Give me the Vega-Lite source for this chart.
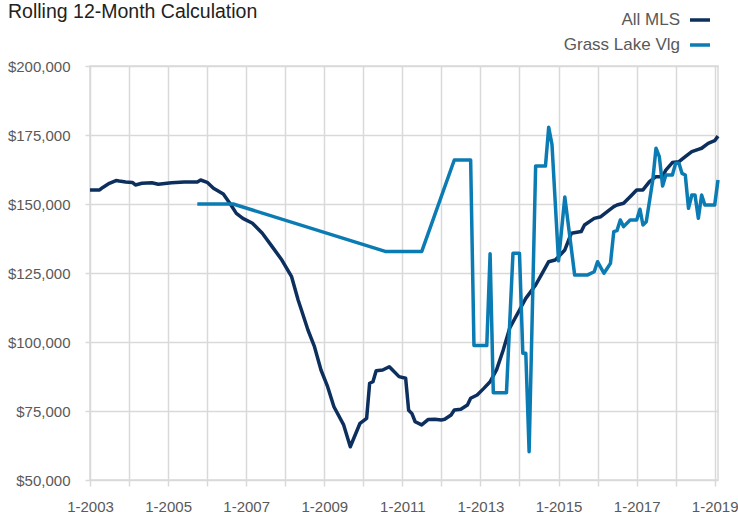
{
  "$schema": "https://vega.github.io/schema/vega-lite/v6.json",
  "width": 628,
  "height": 414,
  "autosize": {"type": "none"},
  "padding": {"left": 90, "top": 66, "right": 20, "bottom": 35},
  "background": "white",
  "title": {"text": "Rolling 12-Month Calculation", "anchor": "start", "frame": "group", "dx": -82, "dy": 18, "fontSize": 19.5, "font": "Liberation Sans", "fontWeight": "normal", "color": "#222222"},
  "config": {"view": {"stroke": "#d9d9d9", "strokeWidth": 1.5}, "font": "Liberation Sans"},
  "data": {
    "format": {"parse": {"date": "date:'%Y-%m'"}},
    "values": [
      {"date": "2003-01", "series": "All MLS", "value": 155100},
      {"date": "2003-04", "series": "All MLS", "value": 155100},
      {"date": "2003-05", "series": "All MLS", "value": 156000},
      {"date": "2003-07", "series": "All MLS", "value": 157500},
      {"date": "2003-09", "series": "All MLS", "value": 158500},
      {"date": "2003-10", "series": "All MLS", "value": 158300},
      {"date": "2003-12", "series": "All MLS", "value": 158000},
      {"date": "2004-02", "series": "All MLS", "value": 157800},
      {"date": "2004-03", "series": "All MLS", "value": 156900},
      {"date": "2004-05", "series": "All MLS", "value": 157500},
      {"date": "2004-08", "series": "All MLS", "value": 157700},
      {"date": "2004-10", "series": "All MLS", "value": 157150},
      {"date": "2005-02", "series": "All MLS", "value": 157700},
      {"date": "2005-06", "series": "All MLS", "value": 158000},
      {"date": "2005-10", "series": "All MLS", "value": 158000},
      {"date": "2005-11", "series": "All MLS", "value": 158700},
      {"date": "2006-01", "series": "All MLS", "value": 157850},
      {"date": "2006-03", "series": "All MLS", "value": 155700},
      {"date": "2006-06", "series": "All MLS", "value": 153600},
      {"date": "2006-08", "series": "All MLS", "value": 150250},
      {"date": "2006-10", "series": "All MLS", "value": 146600},
      {"date": "2006-12", "series": "All MLS", "value": 144800},
      {"date": "2007-03", "series": "All MLS", "value": 143000},
      {"date": "2007-06", "series": "All MLS", "value": 139400},
      {"date": "2007-09", "series": "All MLS", "value": 134550},
      {"date": "2007-12", "series": "All MLS", "value": 129700},
      {"date": "2008-03", "series": "All MLS", "value": 123650},
      {"date": "2008-05", "series": "All MLS", "value": 115200},
      {"date": "2008-06", "series": "All MLS", "value": 111600},
      {"date": "2008-08", "series": "All MLS", "value": 104350},
      {"date": "2008-10", "series": "All MLS", "value": 98300},
      {"date": "2008-12", "series": "All MLS", "value": 89850},
      {"date": "2009-02", "series": "All MLS", "value": 83800},
      {"date": "2009-04", "series": "All MLS", "value": 76550},
      {"date": "2009-07", "series": "All MLS", "value": 69950},
      {"date": "2009-09", "series": "All MLS", "value": 62050},
      {"date": "2009-12", "series": "All MLS", "value": 70550},
      {"date": "2010-02", "series": "All MLS", "value": 72350},
      {"date": "2010-03", "series": "All MLS", "value": 85050},
      {"date": "2010-04", "series": "All MLS", "value": 85600},
      {"date": "2010-05", "series": "All MLS", "value": 89600},
      {"date": "2010-07", "series": "All MLS", "value": 89850},
      {"date": "2010-09", "series": "All MLS", "value": 91050},
      {"date": "2010-10", "series": "All MLS", "value": 89850},
      {"date": "2010-12", "series": "All MLS", "value": 87450},
      {"date": "2011-02", "series": "All MLS", "value": 86850},
      {"date": "2011-03", "series": "All MLS", "value": 75250},
      {"date": "2011-04", "series": "All MLS", "value": 74050},
      {"date": "2011-05", "series": "All MLS", "value": 71100},
      {"date": "2011-07", "series": "All MLS", "value": 69950},
      {"date": "2011-09", "series": "All MLS", "value": 71950},
      {"date": "2011-11", "series": "All MLS", "value": 72050},
      {"date": "2012-01", "series": "All MLS", "value": 71750},
      {"date": "2012-02", "series": "All MLS", "value": 72000},
      {"date": "2012-04", "series": "All MLS", "value": 73550},
      {"date": "2012-05", "series": "All MLS", "value": 75350},
      {"date": "2012-07", "series": "All MLS", "value": 75600},
      {"date": "2012-09", "series": "All MLS", "value": 77150},
      {"date": "2012-10", "series": "All MLS", "value": 79600},
      {"date": "2012-12", "series": "All MLS", "value": 80800},
      {"date": "2013-02", "series": "All MLS", "value": 83200},
      {"date": "2013-04", "series": "All MLS", "value": 85600},
      {"date": "2013-06", "series": "All MLS", "value": 90000},
      {"date": "2013-08", "series": "All MLS", "value": 97000},
      {"date": "2013-10", "series": "All MLS", "value": 105000},
      {"date": "2014-01", "series": "All MLS", "value": 111600},
      {"date": "2014-03", "series": "All MLS", "value": 115800},
      {"date": "2014-06", "series": "All MLS", "value": 120650},
      {"date": "2014-08", "series": "All MLS", "value": 124900},
      {"date": "2014-10", "series": "All MLS", "value": 129100},
      {"date": "2014-12", "series": "All MLS", "value": 129700},
      {"date": "2015-01", "series": "All MLS", "value": 130900},
      {"date": "2015-03", "series": "All MLS", "value": 133350},
      {"date": "2015-05", "series": "All MLS", "value": 139400},
      {"date": "2015-08", "series": "All MLS", "value": 140000},
      {"date": "2015-09", "series": "All MLS", "value": 142400},
      {"date": "2015-12", "series": "All MLS", "value": 144800},
      {"date": "2016-02", "series": "All MLS", "value": 145400},
      {"date": "2016-04", "series": "All MLS", "value": 147200},
      {"date": "2016-06", "series": "All MLS", "value": 149050},
      {"date": "2016-07", "series": "All MLS", "value": 149650},
      {"date": "2016-09", "series": "All MLS", "value": 150250},
      {"date": "2016-11", "series": "All MLS", "value": 152650},
      {"date": "2017-01", "series": "All MLS", "value": 155100},
      {"date": "2017-03", "series": "All MLS", "value": 155100},
      {"date": "2017-05", "series": "All MLS", "value": 158100},
      {"date": "2017-07", "series": "All MLS", "value": 159900},
      {"date": "2017-09", "series": "All MLS", "value": 159900},
      {"date": "2017-10", "series": "All MLS", "value": 162300},
      {"date": "2017-12", "series": "All MLS", "value": 165000},
      {"date": "2018-02", "series": "All MLS", "value": 165350},
      {"date": "2018-04", "series": "All MLS", "value": 167150},
      {"date": "2018-06", "series": "All MLS", "value": 168950},
      {"date": "2018-08", "series": "All MLS", "value": 169800},
      {"date": "2018-09", "series": "All MLS", "value": 170200},
      {"date": "2018-11", "series": "All MLS", "value": 172000},
      {"date": "2019-01", "series": "All MLS", "value": 172950},
      {"date": "2019-02", "series": "All MLS", "value": 174600},
      {"date": "2005-10", "series": "Grass Lake Vlg", "value": 150000},
      {"date": "2006-09", "series": "Grass Lake Vlg", "value": 150000},
      {"date": "2010-08", "series": "Grass Lake Vlg", "value": 132750},
      {"date": "2011-07", "series": "Grass Lake Vlg", "value": 132750},
      {"date": "2012-05", "series": "Grass Lake Vlg", "value": 165950},
      {"date": "2012-10", "series": "Grass Lake Vlg", "value": 165950},
      {"date": "2012-11", "series": "Grass Lake Vlg", "value": 98700},
      {"date": "2013-03", "series": "Grass Lake Vlg", "value": 98700},
      {"date": "2013-04", "series": "Grass Lake Vlg", "value": 132000},
      {"date": "2013-05", "series": "Grass Lake Vlg", "value": 81650},
      {"date": "2013-09", "series": "Grass Lake Vlg", "value": 81650},
      {"date": "2013-11", "series": "Grass Lake Vlg", "value": 132150},
      {"date": "2014-01", "series": "Grass Lake Vlg", "value": 132150},
      {"date": "2014-02", "series": "Grass Lake Vlg", "value": 95900},
      {"date": "2014-03", "series": "Grass Lake Vlg", "value": 95900},
      {"date": "2014-04", "series": "Grass Lake Vlg", "value": 60250},
      {"date": "2014-06", "series": "Grass Lake Vlg", "value": 163750},
      {"date": "2014-09", "series": "Grass Lake Vlg", "value": 163750},
      {"date": "2014-10", "series": "Grass Lake Vlg", "value": 177800},
      {"date": "2014-11", "series": "Grass Lake Vlg", "value": 171500},
      {"date": "2015-01", "series": "Grass Lake Vlg", "value": 129400},
      {"date": "2015-03", "series": "Grass Lake Vlg", "value": 152550},
      {"date": "2015-06", "series": "Grass Lake Vlg", "value": 124300},
      {"date": "2015-10", "series": "Grass Lake Vlg", "value": 124300},
      {"date": "2015-12", "series": "Grass Lake Vlg", "value": 125450},
      {"date": "2016-01", "series": "Grass Lake Vlg", "value": 129100},
      {"date": "2016-03", "series": "Grass Lake Vlg", "value": 124900},
      {"date": "2016-04", "series": "Grass Lake Vlg", "value": 126700},
      {"date": "2016-05", "series": "Grass Lake Vlg", "value": 128500},
      {"date": "2016-06", "series": "Grass Lake Vlg", "value": 140000},
      {"date": "2016-07", "series": "Grass Lake Vlg", "value": 140350},
      {"date": "2016-08", "series": "Grass Lake Vlg", "value": 144200},
      {"date": "2016-09", "series": "Grass Lake Vlg", "value": 141800},
      {"date": "2016-11", "series": "Grass Lake Vlg", "value": 144200},
      {"date": "2017-01", "series": "Grass Lake Vlg", "value": 144200},
      {"date": "2017-02", "series": "Grass Lake Vlg", "value": 148100},
      {"date": "2017-03", "series": "Grass Lake Vlg", "value": 142400},
      {"date": "2017-04", "series": "Grass Lake Vlg", "value": 143600},
      {"date": "2017-06", "series": "Grass Lake Vlg", "value": 158700},
      {"date": "2017-07", "series": "Grass Lake Vlg", "value": 170200},
      {"date": "2017-08", "series": "Grass Lake Vlg", "value": 167150},
      {"date": "2017-09", "series": "Grass Lake Vlg", "value": 156500},
      {"date": "2017-10", "series": "Grass Lake Vlg", "value": 160500},
      {"date": "2017-12", "series": "Grass Lake Vlg", "value": 160500},
      {"date": "2018-01", "series": "Grass Lake Vlg", "value": 164750},
      {"date": "2018-02", "series": "Grass Lake Vlg", "value": 164750},
      {"date": "2018-03", "series": "Grass Lake Vlg", "value": 161100},
      {"date": "2018-04", "series": "Grass Lake Vlg", "value": 160500},
      {"date": "2018-05", "series": "Grass Lake Vlg", "value": 148450},
      {"date": "2018-06", "series": "Grass Lake Vlg", "value": 153250},
      {"date": "2018-07", "series": "Grass Lake Vlg", "value": 153250},
      {"date": "2018-08", "series": "Grass Lake Vlg", "value": 144800},
      {"date": "2018-09", "series": "Grass Lake Vlg", "value": 153250},
      {"date": "2018-10", "series": "Grass Lake Vlg", "value": 149650},
      {"date": "2019-01", "series": "Grass Lake Vlg", "value": 149650},
      {"date": "2019-02", "series": "Grass Lake Vlg", "value": 158700}
    ]
  },
  "mark": {"type": "line", "strokeWidth": 3.5, "strokeJoin": "round"},
  "encoding": {
    "x": {
      "field": "date",
      "type": "temporal",
      "scale": {"domain": [{"year": 2003, "month": 1, "date": 1}, {"year": 2019, "month": 2, "date": 1}]},
      "axis": {
        "title": null,
        "values": [
          {"year": 2003, "month": 1, "date": 1}, {"year": 2004, "month": 1, "date": 1}, {"year": 2005, "month": 1, "date": 1},
          {"year": 2006, "month": 1, "date": 1}, {"year": 2007, "month": 1, "date": 1}, {"year": 2008, "month": 1, "date": 1},
          {"year": 2009, "month": 1, "date": 1}, {"year": 2010, "month": 1, "date": 1}, {"year": 2011, "month": 1, "date": 1},
          {"year": 2012, "month": 1, "date": 1}, {"year": 2013, "month": 1, "date": 1}, {"year": 2014, "month": 1, "date": 1},
          {"year": 2015, "month": 1, "date": 1}, {"year": 2016, "month": 1, "date": 1}, {"year": 2017, "month": 1, "date": 1},
          {"year": 2018, "month": 1, "date": 1}, {"year": 2019, "month": 1, "date": 1}
        ],
        "labelExpr": "year(datum.value) % 2 == 1 ? '1-' + year(datum.value) : ''",
        "grid": true,
        "gridColor": "#d9d9d9",
        "gridWidth": 1.5,
        "domain": false,
        "tickColor": "#d9d9d9",
        "tickWidth": 1.5,
        "tickSize": 6,
        "labelPadding": 13,
        "labelFontSize": 15,
        "labelColor": "#595959",
        "labelOverlap": false,
        "labelFlush": false
      }
    },
    "y": {
      "field": "value",
      "type": "quantitative",
      "scale": {"domain": [50000, 200000], "nice": false, "zero": false},
      "axis": {
        "title": null,
        "values": [50000, 75000, 100000, 125000, 150000, 175000, 200000],
        "format": "$,.0f",
        "grid": true,
        "gridColor": "#d9d9d9",
        "gridWidth": 1.5,
        "domain": false,
        "tickColor": "#d9d9d9",
        "tickWidth": 1.5,
        "tickSize": 5,
        "labelPadding": 15,
        "labelFontSize": 15,
        "labelColor": "#595959"
      }
    },
    "color": {
      "field": "series",
      "type": "nominal",
      "scale": {"domain": ["All MLS", "Grass Lake Vlg"], "range": ["#0c2f5e", "#0b7bb3"]},
      "legend": {
        "title": null,
        "orient": "none",
        "legendX": 598,
        "legendY": -58,
        "padding": 0,
        "symbolType": "stroke",
        "symbolSize": 400,
        "symbolStrokeWidth": 3.5,
        "labelAlign": "right",
        "labelOffset": -32,
        "labelFontSize": 17,
        "labelColor": "#595959",
        "rowPadding": 5
      }
    }
  }
}
